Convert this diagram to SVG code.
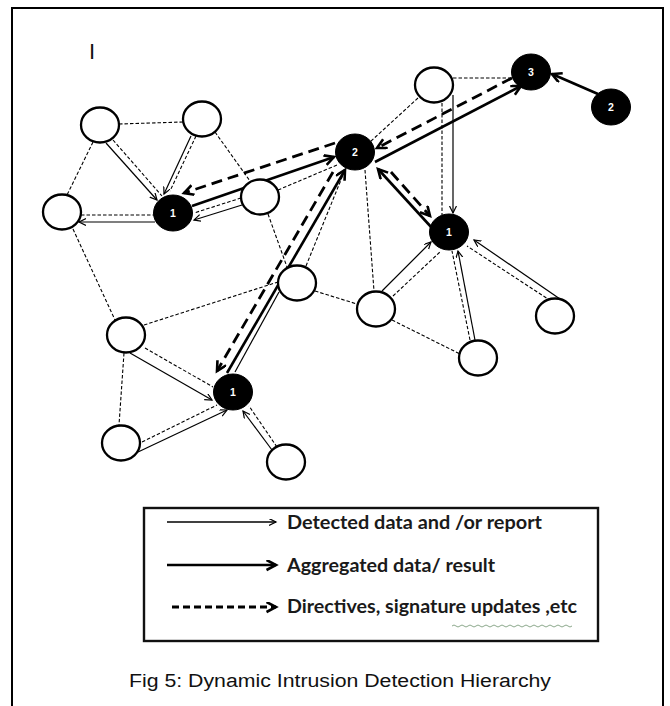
<svg xmlns="http://www.w3.org/2000/svg" width="670" height="706" viewBox="0 0 670 706">
  <defs>
    <style>
      .frame { fill: none; stroke: #000; stroke-width: 2; }
      .legend-box { fill: #fff; stroke: #111; stroke-width: 2.4; }
      .nw { fill: #fff; stroke: #000; stroke-width: 2.3; }
      .nb { fill: #000; stroke: #000; stroke-width: 1; }
      .lbl { fill: #fff; font-family: "Liberation Sans", Arial, sans-serif; font-weight: bold; font-size: 10.5px; text-anchor: middle; }
      .link { fill: none; stroke: #000; stroke-width: 1.1; stroke-dasharray: 3.5 2; }
      .plain { fill: none; stroke: #000; stroke-width: 1.2; }
      .data { fill: none; stroke: #000; stroke-width: 1.2; marker-end: url(#ah-s); }
      .agg { fill: none; stroke: #000; stroke-width: 2.6; marker-end: url(#ah-l); }
      .dir { fill: none; stroke: #000; stroke-width: 2.8; stroke-dasharray: 11 6; marker-end: url(#ah-l); }
      .leg { font-family: Lato, "Liberation Sans", sans-serif; font-weight: bold; font-size: 18px; fill: #1a1a1a; }
      .cap { font-family: "Liberation Sans", Arial, sans-serif; font-size: 18px; fill: #111; }
    </style>
    <marker id="ah-s" markerUnits="userSpaceOnUse" markerWidth="10" markerHeight="10" refX="7" refY="3.5" orient="auto">
      <path d="M0,0 L7,3.5 L0,7" fill="none" stroke="#000" stroke-width="1.2" stroke-dasharray="none"/>
    </marker>
    <marker id="ah-l" markerUnits="userSpaceOnUse" markerWidth="14" markerHeight="14" refX="10" refY="5.5" orient="auto">
      <path d="M0.5,0.5 L10,5.5 L0.5,10.5" fill="none" stroke="#000" stroke-width="2.6" stroke-dasharray="none"/>
    </marker>
  </defs>

  <rect x="0" y="0" width="670" height="706" fill="#fff"/>
  <!-- outer figure frame (open at the bottom) -->
  <path class="frame" d="M12,706 V8 H663 V706"/>

  <text x="89" y="59" font-family="Liberation Sans, Arial, sans-serif" font-size="22" fill="#111">I</text>

  <g id="connectors">
    <!-- plain dashed links -->
    <line class="link" x1="119" y1="124" x2="183" y2="122"/>
    <line class="link" x1="93" y1="142" x2="67" y2="195"/>
    <line class="link" x1="73" y1="229" x2="115" y2="320"/>
    <line class="link" x1="215" y1="132" x2="250" y2="181"/>
    <line class="link" x1="268" y1="214" x2="287" y2="267"/>
    <line class="link" x1="278" y1="190" x2="337" y2="165"/>
    <line class="link" x1="306" y1="266" x2="345" y2="170"/>
    <line class="link" x1="365" y1="170" x2="374" y2="291"/>
    <line class="link" x1="315" y1="291" x2="357" y2="304"/>
    <line class="link" x1="144" y1="325" x2="278" y2="282"/>
    <line class="link" x1="392" y1="320" x2="460" y2="354"/>
    <line class="link" x1="124" y1="353" x2="119" y2="425"/>
    <line class="link" x1="453" y1="78" x2="513" y2="78"/>
    <line class="link" x1="418" y1="98" x2="370" y2="142"/>
    <line class="plain" x1="279" y1="292" x2="235" y2="372"/>

    <!-- detected data (thin arrows) with their dashed companions -->
    <line class="data" x1="106" y1="143" x2="157" y2="200"/>
    <line class="link" x1="113" y1="140" x2="162" y2="196"/>
    <line class="data" x1="191" y1="136" x2="164" y2="194"/>
    <line class="link" x1="196" y1="136" x2="170" y2="191"/>
    <line class="data" x1="155" y1="222" x2="79" y2="222"/>
    <line class="link" x1="81" y1="215" x2="154" y2="215"/>
    <line class="data" x1="242" y1="205" x2="194" y2="220"/>
    <line class="link" x1="241" y1="198" x2="194" y2="213"/>
    <line class="data" x1="130" y1="353" x2="212" y2="400"/>
    <line class="link" x1="145" y1="348" x2="213" y2="387"/>
    <line class="data" x1="138" y1="452" x2="227" y2="410"/>
    <line class="link" x1="142" y1="442" x2="217" y2="405"/>
    <line class="data" x1="272" y1="450" x2="243" y2="411"/>
    <line class="link" x1="277" y1="447" x2="249" y2="406"/>
    <line class="data" x1="382" y1="291" x2="431" y2="242"/>
    <line class="link" x1="393" y1="296" x2="441" y2="251"/>
    <line class="data" x1="475" y1="340" x2="458" y2="251"/>
    <line class="link" x1="470" y1="340" x2="452" y2="251"/>
    <line class="data" x1="560" y1="299" x2="474" y2="240"/>
    <line class="link" x1="551" y1="301" x2="467" y2="246"/>
    <line class="data" x1="453" y1="95" x2="453" y2="213"/>
    <line class="link" x1="442" y1="103" x2="442" y2="215"/>

    <!-- aggregated data (thick arrows) -->
    <line class="agg" x1="192" y1="206" x2="334" y2="157"/>
    <line class="agg" x1="227" y1="373" x2="345" y2="170"/>
    <line class="agg" x1="432" y1="228" x2="378" y2="169"/>
    <line class="agg" x1="375" y1="162" x2="521" y2="86"/>
    <line class="agg" x1="598" y1="94" x2="552" y2="74"/>

    <!-- directives (thick dashed arrows) -->
    <line class="dir" x1="335" y1="143" x2="184" y2="193"/>
    <line class="dir" x1="333" y1="172" x2="217" y2="371"/>
    <line class="dir" x1="512" y1="78" x2="377" y2="148"/>
    <line class="dir" x1="391" y1="172" x2="430" y2="216"/>
  </g>

  <g id="nodes">
    <g id="n-a"><ellipse class="nw" cx="100" cy="125" rx="19" ry="17.5"/></g>
    <g id="n-b"><ellipse class="nw" cx="202" cy="119" rx="19" ry="17.5"/></g>
    <g id="n-c"><ellipse class="nw" cx="62" cy="212" rx="19" ry="17.5"/></g>
    <g id="n-d"><ellipse class="nw" cx="260" cy="197" rx="19" ry="17.5"/></g>
    <g id="n-e"><ellipse class="nw" cx="434" cy="85" rx="19" ry="17.5"/></g>
    <g id="n-f"><ellipse class="nw" cx="297" cy="283" rx="19" ry="17.5"/></g>
    <g id="n-g"><ellipse class="nw" cx="376" cy="309" rx="19" ry="17.5"/></g>
    <g id="n-h"><ellipse class="nw" cx="126" cy="335" rx="19" ry="17.5"/></g>
    <g id="n-i"><ellipse class="nw" cx="121" cy="443" rx="19" ry="17.5"/></g>
    <g id="n-j"><ellipse class="nw" cx="286" cy="462" rx="19" ry="17.5"/></g>
    <g id="n-k"><ellipse class="nw" cx="478" cy="358" rx="19" ry="17.5"/></g>
    <g id="n-l"><ellipse class="nw" cx="555" cy="316" rx="19" ry="17.5"/></g>

    <g id="h1-left"><ellipse class="nb" cx="173" cy="213" rx="19.5" ry="18"/><text class="lbl" x="173" y="217">1</text></g>
    <g id="h1-bottom"><ellipse class="nb" cx="233" cy="392" rx="19.5" ry="18"/><text class="lbl" x="233" y="396">1</text></g>
    <g id="h1-right"><ellipse class="nb" cx="449" cy="232" rx="19.5" ry="18"/><text class="lbl" x="449" y="236">1</text></g>
    <g id="h2-center"><ellipse class="nb" cx="355" cy="152" rx="19.5" ry="18"/><text class="lbl" x="355" y="156">2</text></g>
    <g id="h2-right"><ellipse class="nb" cx="611" cy="107" rx="19.5" ry="18"/><text class="lbl" x="611" y="111">2</text></g>
    <g id="h3-top"><ellipse class="nb" cx="531" cy="72" rx="19.5" ry="18"/><text class="lbl" x="531" y="76">3</text></g>
  </g>

  <g id="legend">
    <rect class="legend-box" x="144" y="508" width="454" height="133"/>
    <line x1="167" y1="522" x2="276" y2="522" stroke="#000" stroke-width="1.3" marker-end="url(#ah-s)"/>
    <line x1="167" y1="565" x2="276" y2="565" stroke="#000" stroke-width="2.6" marker-end="url(#ah-l)"/>
    <line x1="172" y1="607" x2="276" y2="607" stroke="#000" stroke-width="2.8" stroke-dasharray="7 4" marker-end="url(#ah-l)"/>
    <text class="leg" x="287" y="529" textLength="255" lengthAdjust="spacingAndGlyphs">Detected data and /or report</text>
    <text class="leg" x="287" y="572" textLength="208" lengthAdjust="spacingAndGlyphs">Aggregated data/ result</text>
    <text class="leg" x="287" y="613" textLength="290" lengthAdjust="spacingAndGlyphs">Directives, signature updates ,etc</text>
    <!-- spell-check squiggle under "updates ,etc" -->
    <path d="M452,626 q2,-2 4,0 t4,0 t4,0 t4,0 t4,0 t4,0 t4,0 t4,0 t4,0 t4,0 t4,0 t4,0 t4,0 t4,0 t4,0 t4,0 t4,0 t4,0 t4,0 t4,0 t4,0 t4,0 t4,0 t4,0 t4,0 t4,0 t4,0 t4,0 t4,0 t4,0" fill="none" stroke="#7f9f7f" stroke-width="0.9"/>
  </g>

  <text class="cap" x="129" y="687" textLength="422" lengthAdjust="spacingAndGlyphs">Fig 5: Dynamic Intrusion Detection Hierarchy</text>
</svg>
